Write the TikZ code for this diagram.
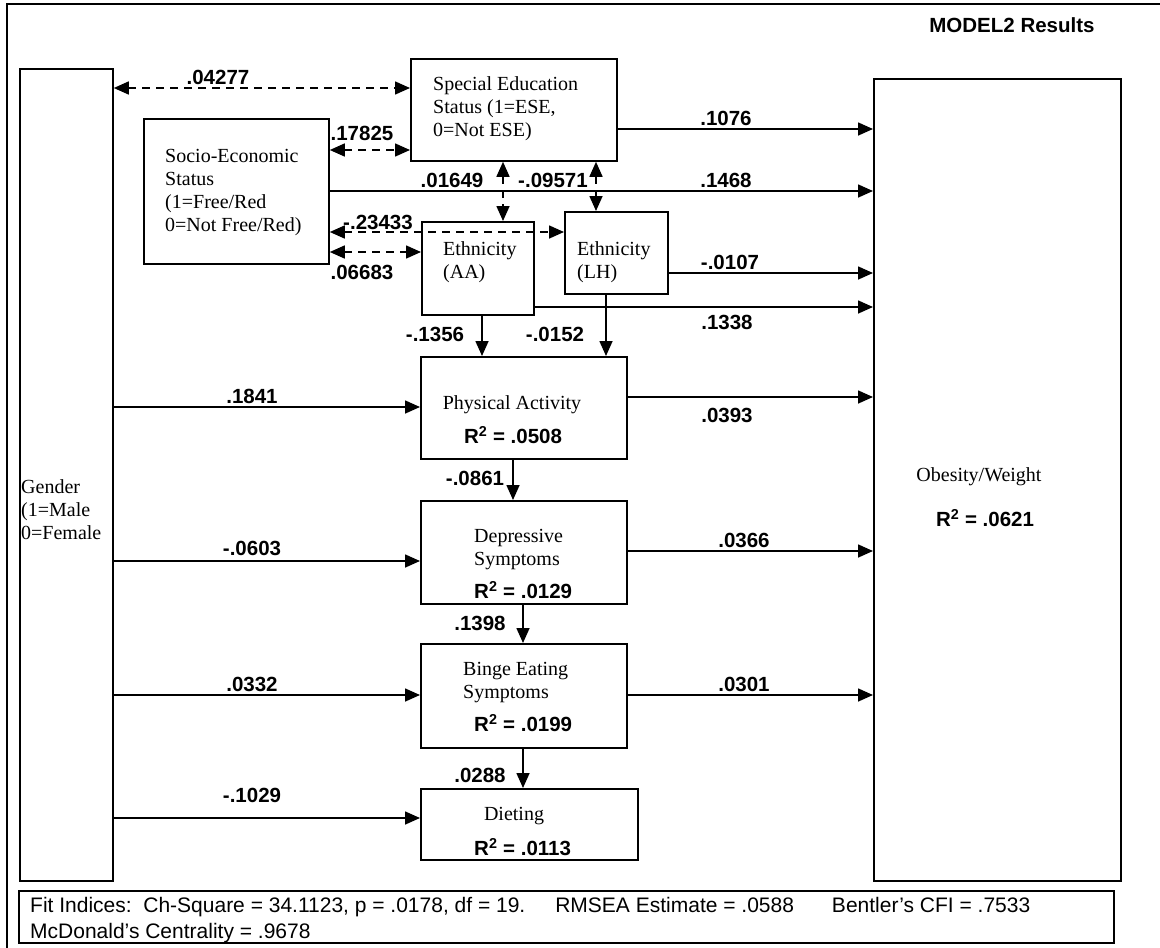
\documentclass[tikz,border=0pt]{standalone}
\usepackage{fontspec}
\setmainfont{Liberation Serif}
\setsansfont{Liberation Sans}
\usetikzlibrary{arrows.meta,calc}
\begin{document}
\begin{tikzpicture}[x=1pt,y=-1pt,
  box/.style={draw, line width=1.8pt, inner sep=0pt, anchor=north west},
  arr/.style={line width=1.6pt, -{Triangle[length=15pt,width=13pt]}},
  darr/.style={line width=1.6pt, dash pattern=on 8pt off 6pt, {Triangle[length=15pt,width=13pt]}-{Triangle[length=15pt,width=13pt]}},
  lbl/.style={font=\sffamily\bfseries\fontsize{20.5}{24}\selectfont, inner sep=0pt},
  txt/.style={font=\fontsize{20}{23}\selectfont, align=left, inner sep=0pt, anchor=west},
  rsq/.style={font=\sffamily\bfseries\fontsize{20.5}{24}\selectfont, inner sep=0pt},
]
\useasboundingbox (0,0) rectangle (1160,948);
% outer frame
\draw[line width=1.6pt] (7,948) -- (7,4) -- (1160,4);
% boxes
\node[box, minimum width=93pt,  minimum height=812pt] (gender) at (19,68) {};
\node[box, minimum width=247pt, minimum height=802pt] (obes)   at (873,78) {};
\node[box, minimum width=206pt, minimum height=102pt] (spec)   at (410,58) {};
\node[box, minimum width=185pt, minimum height=145pt] (ses)    at (143,118) {};
\node[box, minimum width=112pt, minimum height=93pt]  (aa)     at (421,221) {};
\node[box, minimum width=103pt, minimum height=82pt]  (lh)     at (564,211) {};
\node[box, minimum width=206pt, minimum height=102pt] (pa)     at (420,356) {};
\node[box, minimum width=206pt, minimum height=103pt] (dep)    at (420,500) {};
\node[box, minimum width=206pt, minimum height=104pt] (binge)  at (420,643) {};
\node[box, minimum width=217pt, minimum height=71pt]  (diet)   at (420,788) {};
\node[box, minimum width=1095pt, minimum height=52pt] (fitbox) at (18,890) {};
% box texts
\node[txt] (gendertxt) at (21,510) {Gender\\(1=Male\\0=Female};
\node[txt] (spectxt) at (433,109) {Special Education\\Status (1=ESE,\\0=Not ESE)};
\node[txt] (sestxt) at (165,193) {Socio-Economic\\Status\\(1=Free/Red\\0=Not Free/Red)};
\node[txt] (aatxt) at (443,262) {Ethnicity\\(AA)};
\node[txt] (lhtxt) at (577,262) {Ethnicity\\(LH)};
\node[txt, anchor=center] (patxt) at (512,405) {Physical Activity};
\node[rsq] (parsq) at (513,435) {R\textsuperscript{2} = .0508};
\node[txt] (deptxt) at (474,550) {Depressive\\Symptoms};
\node[rsq, anchor=west] (deprsq) at (474,590) {R\textsuperscript{2} = .0129};
\node[txt] (bingetxt) at (463,683) {Binge Eating\\Symptoms};
\node[rsq, anchor=west] (bingersq) at (474,723) {R\textsuperscript{2} = .0199};
\node[txt, anchor=center] (diettxt) at (514,816) {Dieting};
\node[rsq, anchor=west] (dietrsq) at (474,847) {R\textsuperscript{2} = .0113};
\node[txt, anchor=center] (obestxt) at (979,477) {Obesity/Weight};
\node[rsq] (obesrsq) at (985,518) {R\textsuperscript{2} = .0621};
\node[lbl] (title) at (1012,25) {MODEL2 Results};
\node[anchor=west, inner sep=0pt, align=left, font=\sffamily\fontsize{21}{26}\selectfont] (fittxt) at (30,920)
  {Fit Indices:\ \ Ch-Square = 34.1123, p = .0178, df = 19.\hspace{30pt}RMSEA Estimate = .0588\hspace{38pt}Bentler’s CFI = .7533\\McDonald’s Centrality = .9678};
% connectors
\draw[darr] (gender.east |- 0,88) -- (spec.west |- 0,88);
\draw[darr] (ses.east |- 0,150) -- (spec.west |- 0,150);
\draw[arr] (ses.east |- 0,191) -- (obes.west |- 0,191);
\draw[darr] (ses.east |- 0,232) -- (lh.west |- 0,232);
\draw[darr] (ses.east |- 0,252) -- (aa.west |- 0,252);
\draw[darr] (spec.south -| 503,0) -- (aa.north -| 503,0);
\draw[darr] (spec.south -| 596,0) -- (lh.north -| 596,0);
\draw[arr] (spec.east |- 0,129) -- (obes.west |- 0,129);
\draw[arr] (lh.east |- 0,273) -- (obes.west |- 0,273);
\draw[arr] (aa.east |- 0,307) -- (obes.west |- 0,307);
\draw[arr] (aa.south -| 482,0) -- (pa.north -| 482,0);
\draw[arr] (lh.south -| 606,0) -- (pa.north -| 606,0);
\draw[arr] (gender.east |- 0,407) -- (pa.west |- 0,407);
\draw[arr] (pa.east |- 0,397) -- (obes.west |- 0,397);
\draw[arr] (pa.south -| 513,0) -- (dep.north -| 513,0);
\draw[arr] (gender.east |- 0,561) -- (dep.west |- 0,561);
\draw[arr] (dep.east |- 0,551) -- (obes.west |- 0,551);
\draw[arr] (dep.south -| 523,0) -- (binge.north -| 523,0);
\draw[arr] (gender.east |- 0,695) -- (binge.west |- 0,695);
\draw[arr] (binge.east |- 0,695) -- (obes.west |- 0,695);
\draw[arr] (binge.south -| 523,0) -- (diet.north -| 523,0);
\draw[arr] (gender.east |- 0,818) -- (diet.west |- 0,818);
% labels
\node[lbl] (l01) at (218,77) {.04277};
\node[lbl] (l02) at (362,133) {.17825};
\node[lbl] (l03) at (378,222) {-.23433};
\node[lbl] (l04) at (362,272) {.06683};
\node[lbl] (l05) at (452,180) {.01649};
\node[lbl] (l06) at (553,180) {-.09571};
\node[lbl] (l07) at (726,118) {.1076};
\node[lbl] (l08) at (726,180) {.1468};
\node[lbl] (l09) at (730,262) {-.0107};
\node[lbl] (l10) at (727,322) {.1338};
\node[lbl] (l11) at (435,334) {-.1356};
\node[lbl] (l12) at (555,334) {-.0152};
\node[lbl] (l13) at (252,396) {.1841};
\node[lbl] (l14) at (727,415) {.0393};
\node[lbl] (l15) at (475,478) {-.0861};
\node[lbl] (l16) at (252,548) {-.0603};
\node[lbl] (l17) at (744,540) {.0366};
\node[lbl] (l18) at (480,623) {.1398};
\node[lbl] (l19) at (252,684) {.0332};
\node[lbl] (l20) at (744,684) {.0301};
\node[lbl] (l21) at (480,775) {.0288};
\node[lbl] (l22) at (252,795) {-.1029};
\end{tikzpicture}
\end{document}
